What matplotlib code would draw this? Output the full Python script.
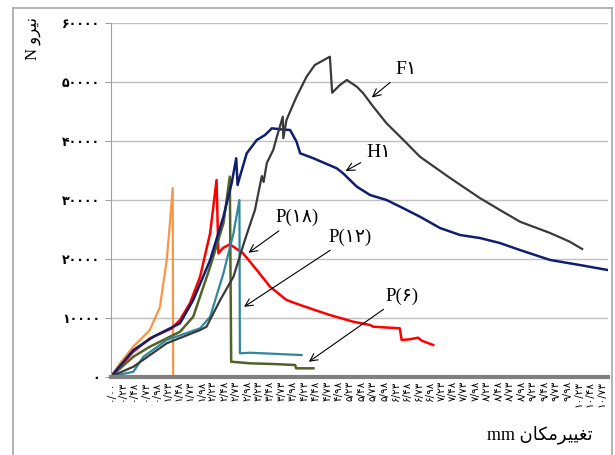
import matplotlib
matplotlib.use("Agg")
import matplotlib.pyplot as plt
from matplotlib.lines import Line2D

# load-displacement curves (displacement mm, force N)
f1_x = [0, 0.49, 1.22, 1.95, 2.09, 2.39, 2.68, 2.93, 3.15, 3.30, 3.34, 3.41, 3.55, 3.63, 3.76,
        3.77, 3.84, 4.06, 4.28, 4.46, 4.79, 4.84, 5.01, 5.16, 5.38, 5.52, 5.74, 6.03, 6.40,
        6.76, 7.42, 8.07, 8.51, 8.95, 9.61, 10.04, 10.31]
f1_y = [0, 1660, 5630, 7880, 8440, 12970, 16920, 23140, 28220, 33980, 32970, 36190, 38390,
        40650, 44040, 40380, 43480, 47430, 50820, 52800, 54210, 48100, 49410, 50260, 49120,
        48000, 45730, 42920, 40090, 37260, 33650, 30260, 28230, 26240, 24320, 22850, 21610]

h1_x = [0, 0.49, 0.93, 1.51, 1.80, 2.17, 2.46, 2.64, 2.74, 2.77, 2.82, 2.97, 3.19, 3.37, 3.52,
        3.70, 3.92, 4.06, 4.14, 4.43, 4.72, 4.94, 5.08, 5.38, 5.67, 6.03, 6.40, 6.76, 7.20,
        7.64, 8.07, 8.51, 8.95, 9.61, 10.26, 10.87]
h1_y = [0, 4490, 6750, 9020, 12970, 19750, 27090, 32750, 36990, 32460, 33870, 37830, 40090,
        40930, 42070, 41900, 41780, 39800, 37830, 36990, 36020, 35290, 34440, 32170, 30760,
        29920, 28510, 27090, 25170, 23980, 23480, 22630, 21440, 19750, 18900, 18050]

p18_x = [0, 0.48, 0.85, 1.33, 1.51, 1.73, 1.95, 2.17, 2.31, 2.35, 2.45, 2.60, 2.89, 3.19, 3.48,
         3.84, 4.14, 4.35, 4.79, 5.30, 5.67, 5.74, 6.32, 6.36, 6.54, 6.72, 6.80, 7.05]
p18_y = [0, 4150, 6470, 8170, 9580, 12460, 16920, 24320, 33310, 20880, 21780, 22410, 20880,
         18050, 15220, 12970, 12120, 11560, 10420, 9290, 8730, 8440, 8170, 6190, 6310, 6580,
         6070, 5340]

p12_x = [0, 0.49, 0.71, 1.22, 1.95, 2.17, 2.46, 2.68, 2.81, 2.82, 3.04, 4.17]
p12_y = [0, 810, 3360, 6190, 8170, 10140, 17490, 24270, 29920, 3930, 4030, 3640]

p6_x = [0, 0.49, 0.85, 1.51, 1.80, 2.17, 2.46, 2.60, 2.63, 3.04, 3.55, 4.03, 4.05, 4.43]
p6_y = [0, 3360, 5050, 7590, 10140, 18610, 25970, 33870, 2510, 2240, 2120, 1950, 1390, 1390]

orange_x = [0, 0.20, 0.48, 0.85, 1.07, 1.22, 1.29, 1.35, 1.36]
orange_y = [0, 2290, 5000, 7880, 11780, 19750, 26020, 31950, 0]

x_ticks = [0.00, 0.23, 0.48, 0.73, 0.98, 1.23, 1.48, 1.73, 1.98, 2.23, 2.48, 2.73, 2.98,
           3.23, 3.48, 3.73, 3.98, 4.23, 4.48, 4.73, 4.98, 5.23, 5.48, 5.73, 5.98, 6.23,
           6.48, 6.73, 6.98, 7.23, 7.48, 7.73, 7.98, 8.23, 8.48, 8.73, 8.98, 9.23, 9.48,
           9.73, 9.98, 10.23, 10.48, 10.73]
y_ticks = [0, 10000, 20000, 30000, 40000, 50000, 60000]

fa = str.maketrans("0123456789", "۰۱۲۳۴۵۶۷۸۹")

def fa_num(s):
    return s.translate(fa)

serif = ["Liberation Serif", "DejaVu Sans"]

fig = plt.figure(figsize=(6.15, 4.55), dpi=100)
ax = fig.add_axes([0.1805, 0.1725, 0.808, 0.778])

ax.plot(orange_x, orange_y, color="#F79646", lw=1.6)
ax.plot(p18_x, p18_y, color="#FF0000", lw=1.8)
ax.plot(p6_x, p6_y, color="#4F6228", lw=1.8)
ax.plot(p12_x, p12_y, color="#31859C", lw=1.6)
ax.plot(h1_x, h1_y, color="#0F1F6E", lw=1.8)
ax.plot(f1_x, f1_y, color="#3A3A3A", lw=1.6)

ax.set_xlim(0, 10.875)
ax.set_ylim(0, 60000)

ax.set_yticks(y_ticks)
ax.set_yticklabels([fa_num(str(v)) for v in y_ticks], fontsize=9, fontweight="bold",
                   family="DejaVu Sans")
ax.set_xticks(x_ticks)
ax.set_xticklabels([fa_num("%.2f" % v).replace(".", "/") for v in x_ticks], rotation=90,
                   fontsize=7.5, family="DejaVu Sans")
ax.tick_params(axis="x", length=0, pad=3)
ax.tick_params(axis="y", length=4, color="#a0a0a0", pad=4)
ax.yaxis.grid(True, color="#c0c0c0", lw=1)
ax.set_axisbelow(True)
for s in ["top", "right"]:
    ax.spines[s].set_visible(False)
ax.spines["left"].set_color("#a0a0a0")
ax.spines["bottom"].set_color("#808080")
ax.spines["bottom"].set_linewidth(3)

# curve labels with arrows
arrow = dict(arrowstyle="->", color="black", lw=0.8)
ax.annotate(fa_num("F1"), xy=(5.66, 47000), xytext=(6.45, 52000), fontsize=14,
            family=serif, ha="center", va="center", arrowprops=arrow)
ax.annotate(fa_num("H1"), xy=(5.08, 34600), xytext=(5.85, 37900), fontsize=14,
            family=serif, ha="center", va="center", arrowprops=arrow)
ax.annotate(fa_num("P(18)"), xy=(2.96, 20700), xytext=(4.07, 26900), fontsize=13.5,
            family=serif, ha="center", va="center", arrowprops=arrow)
ax.annotate(fa_num("P(12)"), xy=(2.86, 11550), xytext=(5.23, 23600), fontsize=13.5,
            family=serif, ha="center", va="center", arrowprops=arrow)
ax.annotate(fa_num("P(6)"), xy=(4.28, 2230), xytext=(6.37, 13600), fontsize=13.5,
            family=serif, ha="center", va="center", arrowprops=arrow)

# axis titles (Persian text written in presentation forms, visual order)
fig.text(0.054, 0.962, "N \uFEED\uFEAE\uFEF4\uFEE7", rotation=90, ha="center", va="top",
         fontsize=12, family=serif)
fig.text(0.877, 0.044, "mm \uFEE5\uFE8E\uFEDC\uFEE3\uFEAE\uFEF4\uFEF4\uFED0\uFE97",
         ha="center", va="center", fontsize=13, family=serif)

# chart frame
frame = dict(color="#a6a6a6", lw=1.2, transform=fig.transFigure)
fig.add_artist(Line2D([0.021, 0.021], [0.0, 0.983], **frame))
fig.add_artist(Line2D([0.021, 0.995], [0.983, 0.983], **frame))
fig.add_artist(Line2D([0.995, 0.995], [0.0, 0.983], **frame))

fig.savefig("out.png", dpi=100)
